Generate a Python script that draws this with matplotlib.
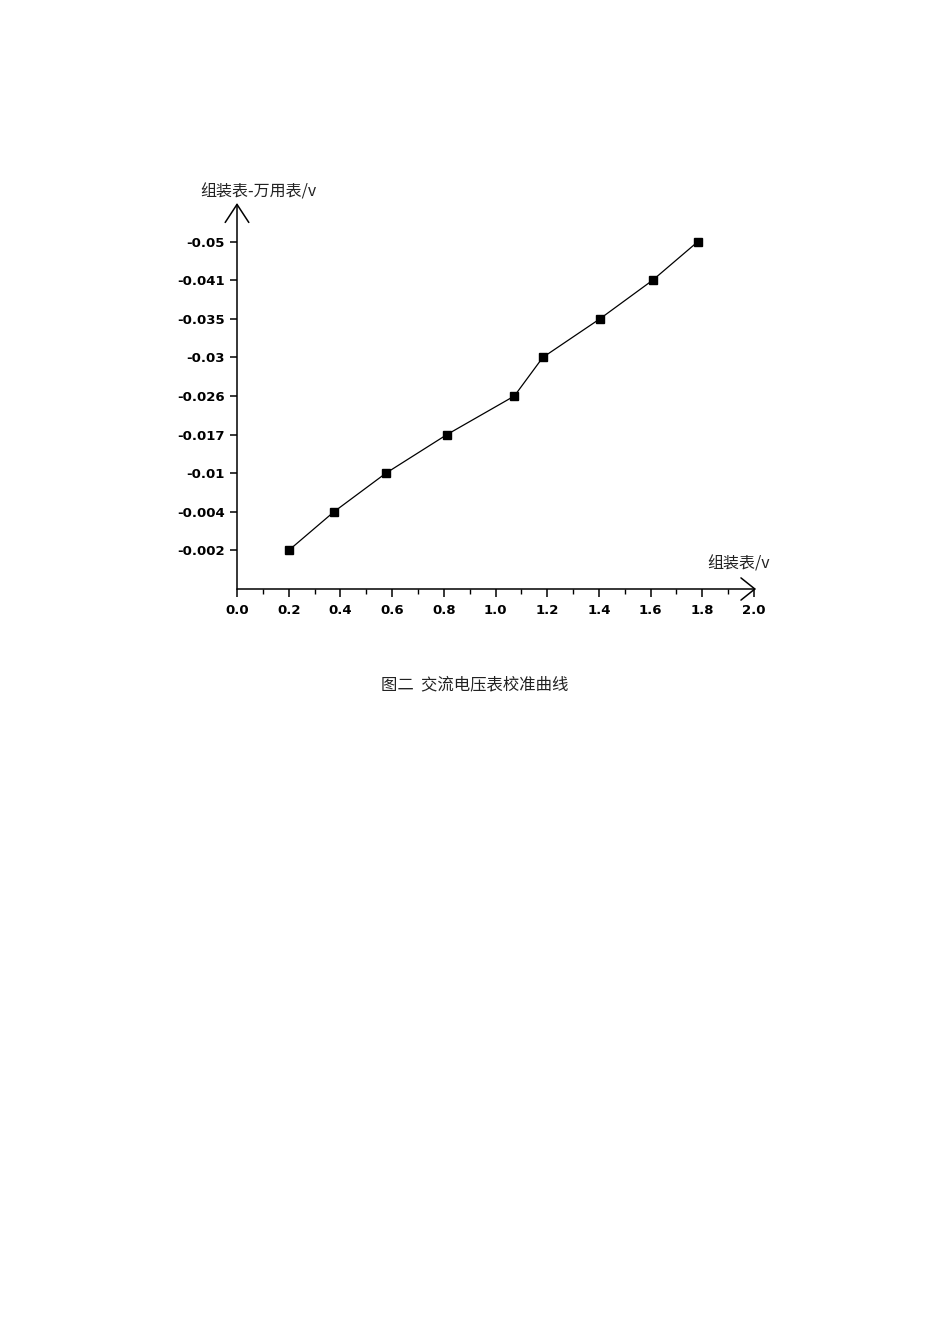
import numpy as np
import matplotlib
matplotlib.use('Agg')
import matplotlib.pyplot as plt
from matplotlib.ticker import MultipleLocator

# 数据 (组装表读数 / 差值标签)
x_vals = [0.2, 0.375, 0.576, 0.812, 1.073, 1.183, 1.404, 1.608, 1.783]
y_labels = ['-0.002', '-0.004', '-0.01', '-0.017', '-0.026',
            '-0.03', '-0.035', '-0.041', '-0.05']
x_ticks = [0.0, 0.2, 0.4, 0.6, 0.8, 1.0, 1.2, 1.4, 1.6, 1.8, 2.0]

y_pos = np.arange(1, len(y_labels) + 1)
cjk = ['Noto Sans CJK SC', 'DejaVu Sans']

fig = plt.figure(figsize=(9.5, 13.44), dpi=100)
ax = fig.add_axes([237 / 950, 1 - 589 / 1344, (754 - 237) / 950, (589 - 203) / 1344])

ax.plot(x_vals, y_pos, color='black', lw=0.9, marker='s', ms=6.2,
        mfc='black', mec='black')

ax.set_xlim(0, 2.0)
ax.set_ylim(0, 10.0)
for s in ax.spines.values():
    s.set_visible(False)

ax.set_xticks(x_ticks)
ax.set_xticklabels(['%.1f' % t for t in x_ticks])
ax.xaxis.set_minor_locator(MultipleLocator(0.1))
ax.set_yticks(y_pos)
ax.set_yticklabels(y_labels)
ax.tick_params(axis='x', which='major', direction='out', length=6, width=1.1, pad=5)
ax.tick_params(axis='x', which='minor', direction='out', length=3.5, width=1.0)
ax.tick_params(axis='y', direction='out', length=5, width=1.1, pad=4)
for lab in ax.get_xticklabels() + ax.get_yticklabels():
    lab.set_fontfamily('DejaVu Sans')
    lab.set_fontweight('bold')
    lab.set_fontsize(9.5)

# 坐标轴箭头
ax.annotate('', xy=(1.004, 0), xytext=(0, 0), xycoords='axes fraction',
            arrowprops=dict(arrowstyle='->,head_length=1.0,head_width=0.8',
                            lw=1.1, color='black', shrinkA=0, shrinkB=0))
ax.annotate('', xy=(0, 1.0), xytext=(0, 0), xycoords='axes fraction',
            arrowprops=dict(arrowstyle='->,head_length=1.3,head_width=0.85',
                            lw=1.1, color='black', shrinkA=0, shrinkB=0))

fig.text(200 / 950, 1 - 192 / 1344, '组装表-万用表/v', family=cjk,
         fontsize=11.5, ha='left', va='center', color='#222222')
fig.text(707 / 950, 1 - 564 / 1344, '组装表/v', family=cjk,
         fontsize=11.5, ha='left', va='center', color='#222222')
fig.text(475 / 950, 1 - 685 / 1344, '图二  交流电压表校准曲线', family=cjk,
         fontsize=11.8, ha='center', va='center', color='#222222')

fig.savefig('out.png', dpi=100, facecolor='white')
